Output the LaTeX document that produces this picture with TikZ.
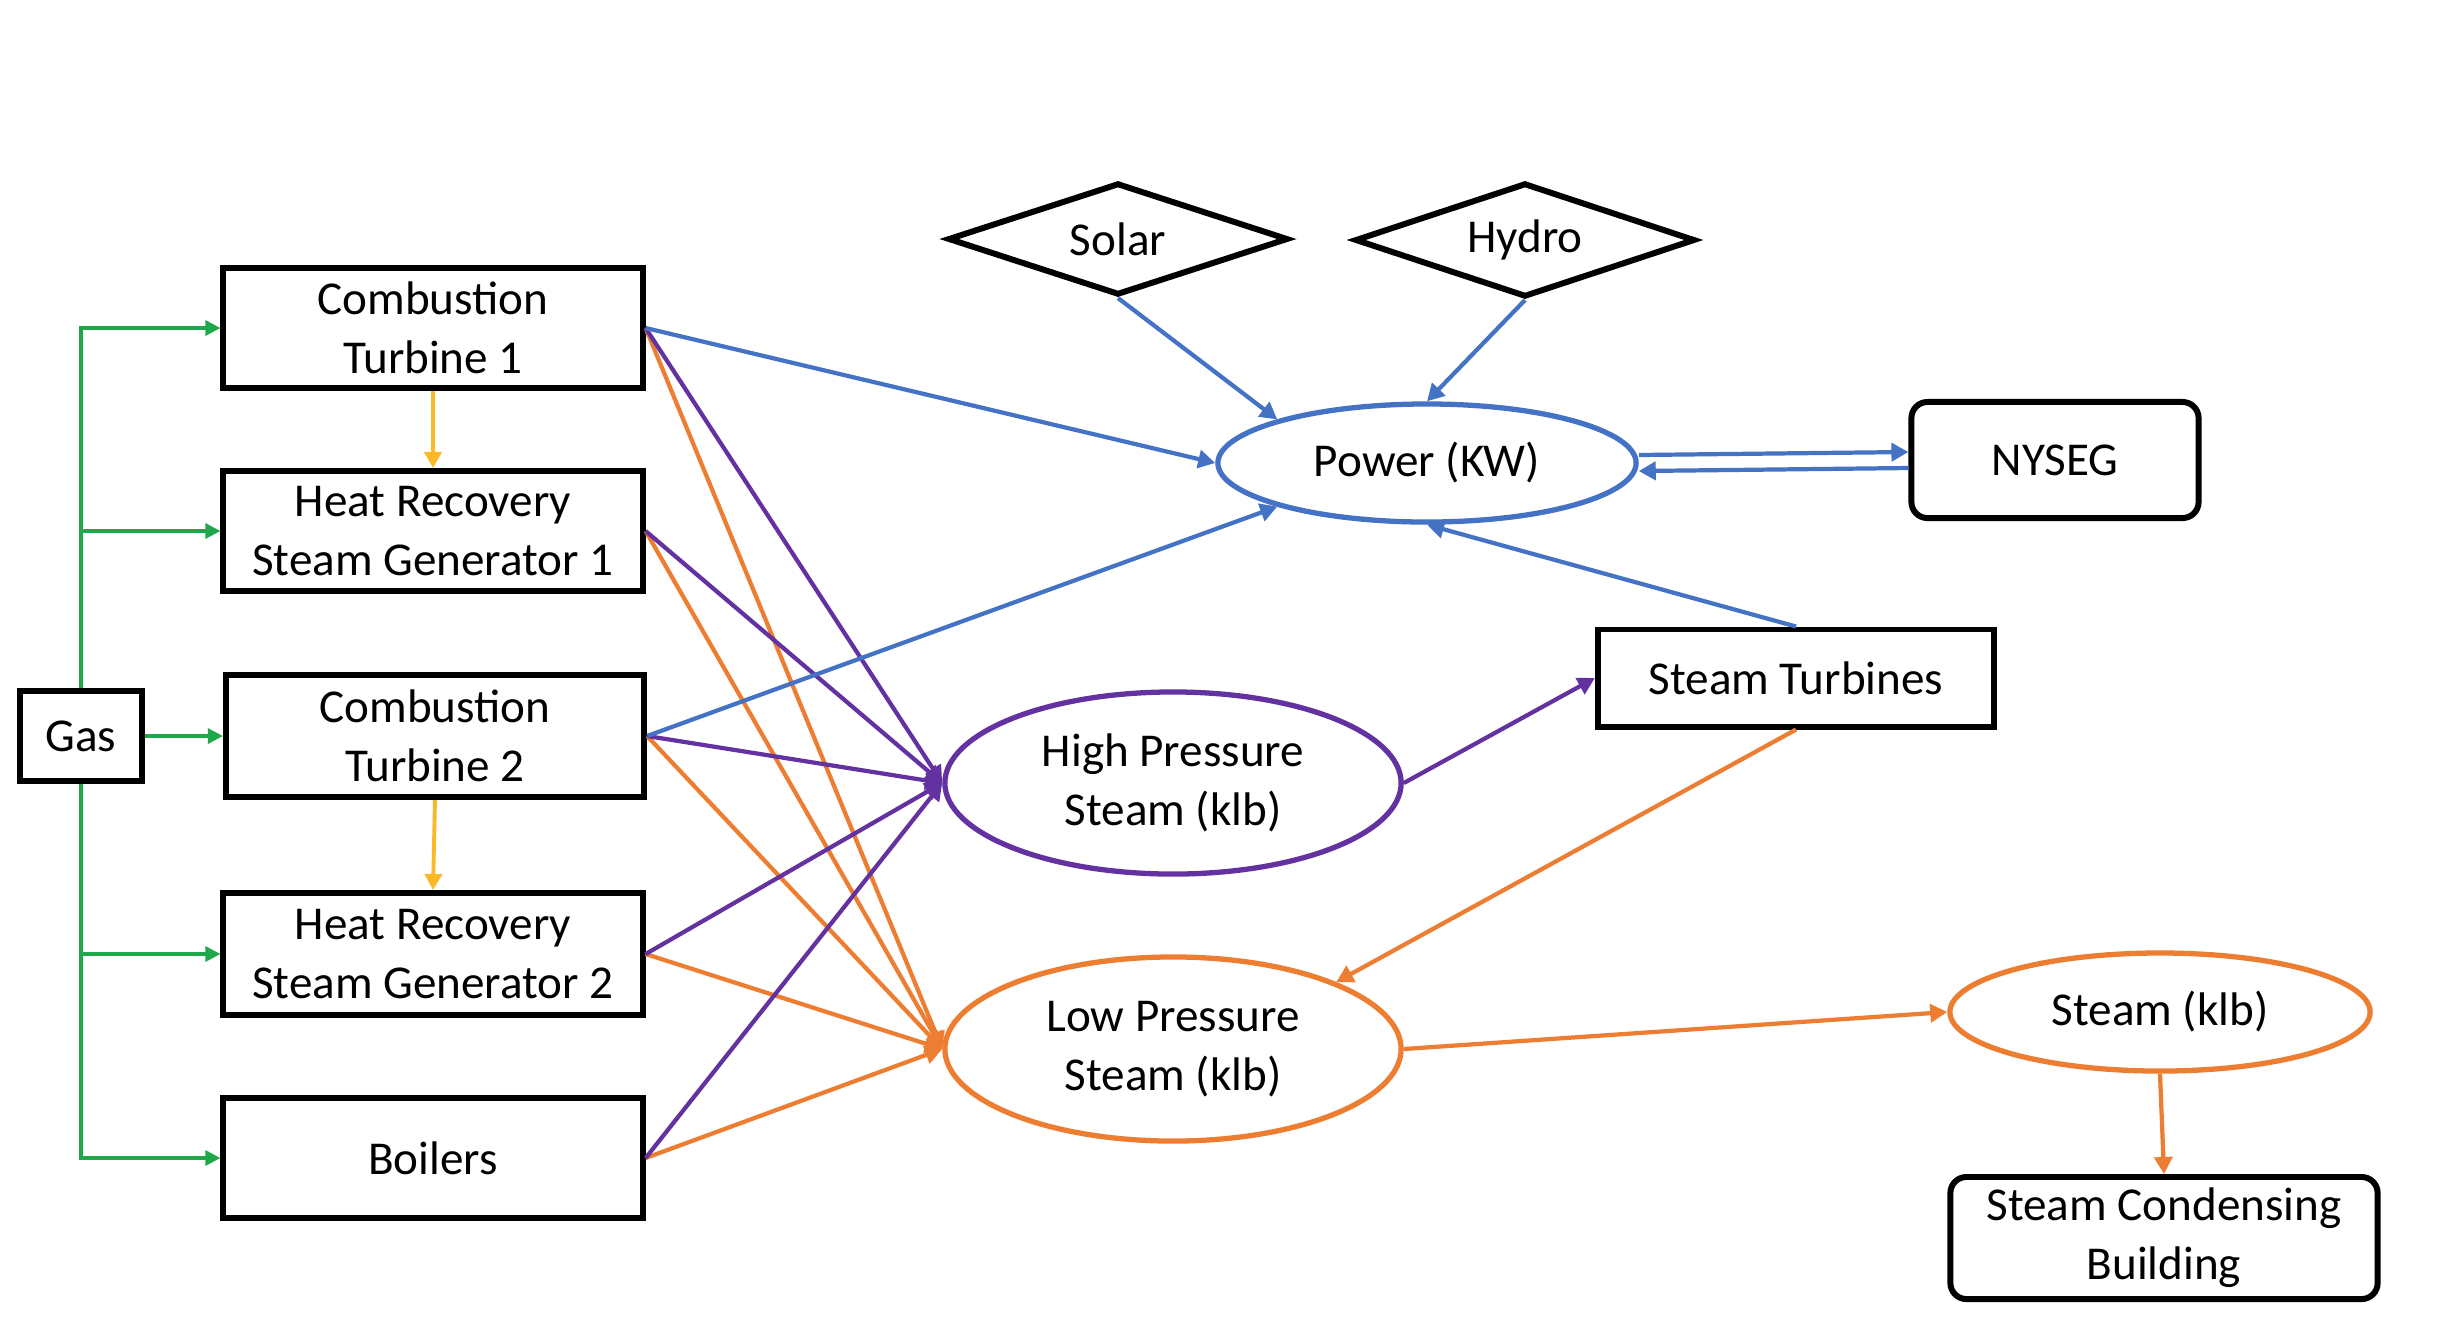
\documentclass[tikz,border=0pt]{standalone}
\usepackage{fontspec}
\setmainfont{Carlito}
\usetikzlibrary{shapes.geometric,arrows.meta}
\definecolor{cblue}{HTML}{4472C4}
\definecolor{corange}{HTML}{ED7D31}
\definecolor{cpurple}{HTML}{6332A0}
\definecolor{cgreen}{HTML}{1FA84A}
\definecolor{cyellow}{HTML}{FBB927}
\begin{document}
\begin{tikzpicture}[x=0.01cm,y=-0.01cm,
  font=\fontsize{13.4}{16.8}\selectfont,
  box/.style={draw=black, line width=1.7pt, rectangle, inner sep=0pt, align=center},
  rbox/.style={box, rounded corners=0.16cm},
  dia/.style={draw=black, line width=1.7pt, diamond, shape aspect=3, inner sep=0pt, align=center},
  ell/.style={ellipse, line width=1.5pt, inner sep=0pt, align=center},
  tip/.style={-{Triangle[length=0.17cm,width=0.18cm]}},
  gline/.style={draw=cgreen, line width=0.9pt, -{Triangle[length=0.15cm,width=0.15cm]}},
  yline/.style={draw=cyellow, line width=1.1pt, -{Triangle[length=0.16cm,width=0.17cm]}},
  bline/.style={draw=cblue, line width=1.2pt, tip},
  pline/.style={draw=cpurple, line width=1.2pt, tip},
  oline/.style={draw=corange, line width=1.2pt, tip}]
\useasboundingbox (0,0) rectangle (2445,1332);
% boxes
\node[box, minimum width=1.22cm, minimum height=0.90cm] (gas) at (81,736) {Gas};
\node[box, minimum width=4.19cm, minimum height=1.20cm] (ct1) at (433,328) {Combustion\\Turbine 1};
\node[box, minimum width=4.19cm, minimum height=1.20cm] (hrsg1) at (433,531) {Heat Recovery\\Steam Generator 1};
\node[box, minimum width=4.18cm, minimum height=1.22cm] (ct2) at (435,736) {Combustion\\Turbine 2};
\node[box, minimum width=4.19cm, minimum height=1.22cm] (hrsg2) at (433,954) {Heat Recovery\\Steam Generator 2};
\node[box, minimum width=4.19cm, minimum height=1.20cm] (boil) at (433,1158) {Boilers};
\node[dia, minimum width=3.40cm, minimum height=1.12cm] (solar) at (1118,239) {Solar};
\node[dia, minimum width=3.40cm, minimum height=1.14cm] (hydro) at (1525,240) {Hydro};
\node[ell, draw=cblue, minimum width=4.18cm, minimum height=1.18cm] (power) at (1427,463) {Power (KW)};
\node[rbox, minimum width=2.87cm, minimum height=1.16cm] (nyseg) at (2055,460) {NYSEG};
\node[box, minimum width=3.96cm, minimum height=0.97cm] (st) at (1796,678) {Steam Turbines};
\node[ell, draw=cpurple, minimum width=4.56cm, minimum height=1.82cm] (hp) at (1173,783) {High Pressure\\Steam (klb)};
\node[ell, draw=corange, minimum width=4.56cm, minimum height=1.84cm] (lp) at (1173,1049) {Low Pressure\\Steam (klb)};
\node[ell, draw=corange, minimum width=4.20cm, minimum height=1.18cm] (steam) at (2160,1012) {Steam (klb)};
\node[rbox, minimum width=4.27cm, minimum height=1.22cm] (scb) at (2164,1238) {Steam Condensing\\Building};
% green gas lines
\draw[gline] (gas.north) |- (ct1.west);
\draw[gline] (gas.north) |- (hrsg1.west);
\draw[gline] (gas.east) -- (ct2.west);
\draw[gline] (gas.south) |- (hrsg2.west);
\draw[gline] (gas.south) |- (boil.west);
% yellow
\draw[yline] (ct1.south) -- (hrsg1.north);
\draw[yline] (ct2.south) -- (hrsg2.north);
% orange to LP
\draw[oline] (ct1.east) -- (lp.west);
\draw[oline] (hrsg1.east) -- (lp.west);
\draw[oline] (ct2.east) -- (lp.west);
\draw[oline] (hrsg2.east) -- (lp.west);
\draw[oline] (boil.east) -- (lp.west);
% purple to HP
\draw[pline] (ct1.east) -- (hp.west);
\draw[pline] (hrsg1.east) -- (hp.west);
\draw[pline] (ct2.east) -- (hp.west);
\draw[pline] (hrsg2.east) -- (hp.west);
\draw[pline] (boil.east) -- (hp.west);
\draw[pline] (hp.east) -- (st.west);
% blue
\draw[bline] (ct1.east) -- (power.west);
\draw[bline] (ct2.east) -- (power.south west);
\draw[bline] (solar.south) -- (power.north west);
\draw[bline] (hydro.south) -- (power.north);
\draw[bline] ([yshift=0.08cm]power.east) -- ([yshift=0.08cm]nyseg.west);
\draw[bline] ([yshift=-0.08cm]nyseg.west) -- ([yshift=-0.08cm]power.east);
\draw[bline] (st.north) -- (power.south);
% orange right side
\draw[oline] (st.south) -- (lp.north east);
\draw[oline] (lp.east) -- (steam.west);
\draw[oline] (steam.south) -- (scb.north);
\end{tikzpicture}
\end{document}
